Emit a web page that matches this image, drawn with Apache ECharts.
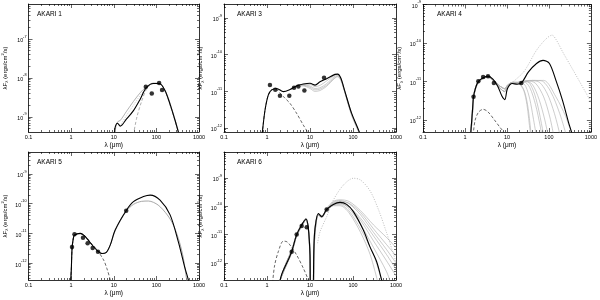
<!DOCTYPE html>
<html><head><meta charset="utf-8">
<script src="https://cdn.jsdelivr.net/npm/echarts@6/dist/echarts.min.js"></script>
<style>html,body{margin:0;padding:0;background:#fff}#c{width:600px;height:300px}</style>
</head><body><div id="c"></div>
<script>
// ---------------- data ----------------
const panelNames = ['AKARI 1', 'AKARI 3', 'AKARI 4', 'AKARI 5', 'AKARI 6'];
const xTickValues = [0.1, 1, 10, 100, 1000];
const xTickLabels = ['0.1', '1', '10', '100', '1000'];
const xRange = [0.1, 1000];
const yRanges = [[4.1e-10, 7.9e-7], [7.8e-13, 2.4e-9], [4.9e-13, 1e-9], [2.7e-13, 5.5e-9], [2.5e-13, 8.3e-9]];
const yDecades = [[1e-9, 1e-8, 1e-7], [1e-12, 1e-11, 1e-10, 1e-9], [1e-12, 1e-11, 1e-10, 1e-9], [1e-12, 1e-11, 1e-10, 1e-9], [1e-12, 1e-11, 1e-10, 1e-9]];

// AKARI 1  [wavelength um, lambda F_lambda]
const a1Obs = [[56.5, 5.9e-9], [78, 4.0e-9], [116, 7.4e-9], [136, 4.9e-9]];
const a1Fit = [[10.4, 3.5e-10], [10.8, 5.5e-10], [12.3, 6.9e-10], [14.2, 5.8e-10], [20, 8.9e-10], [29, 1.45e-9], [42, 2.9e-9], [57, 5.5e-9], [85, 7.2e-9], [118, 7.2e-9], [160, 4.7e-9], [210, 2.1e-9], [275, 8.1e-10], [328, 4.1e-10], [360, 3e-10]];
const a1Alt = [[10.6, 3.5e-10], [11.4, 6.2e-10], [12.5, 7.6e-10], [14.2, 8.1e-10], [20, 1.4e-9], [29, 2.5e-9], [42, 4.2e-9], [55, 5.6e-9], [85, 7.4e-9], [118, 7.3e-9], [160, 4.8e-9], [210, 2.2e-9], [275, 8.5e-10], [335, 4e-10], [360, 3e-10]];
const a1Dot = [[15, 6.5e-10], [20, 1.1e-9], [29, 2.0e-9], [42, 3.6e-9], [55, 5.0e-9], [85, 7.1e-9], [118, 7.1e-9], [160, 4.6e-9], [210, 2.0e-9], [275, 7.8e-10], [330, 3.8e-10]];
const a1Cold = [[29, 3.5e-10], [35, 1.0e-9], [45.6, 2.6e-9], [60, 5.4e-9], [85, 7.2e-9], [118, 7.1e-9], [160, 4.6e-9], [210, 2.0e-9], [275, 7.9e-10], [330, 3.9e-10]];

// AKARI 3
const a3Obs = [[1.17, 1.5e-11], [1.56, 1.1e-11], [2.0, 7.6e-12], [3.3, 7.6e-12], [4.25, 1.26e-11], [5.36, 1.35e-11], [7.4, 1.05e-11], [21.2, 2.35e-11]];
const a3Fit = [[0.75, 5e-13], [0.78, 7.8e-13], [0.9, 3.1e-12], [1.07, 7.9e-12], [1.28, 1.1e-11], [1.68, 1.2e-11], [2.4, 9.8e-12], [3.43, 1.12e-11], [4.9, 1.41e-11], [7.0, 1.58e-11], [10, 1.66e-11], [13.1, 1.48e-11], [17.1, 1.82e-11], [24.4, 2.2e-11], [38, 2.9e-11], [44, 2.95e-11], [52, 2.3e-11], [65, 9.8e-12], [93, 2.5e-12], [140, 7.8e-13], [160, 4e-13]];
const a3Star = [[0.75, 5e-13], [0.78, 7.8e-13], [0.9, 3.1e-12], [1.07, 7.9e-12], [1.28, 1.08e-11], [1.6, 1.15e-11], [2.0, 9e-12], [2.62, 6.5e-12], [3.43, 4.7e-12], [4.9, 2.5e-12], [7.0, 1.2e-12], [8.7, 7.8e-13], [9.5, 5e-13]];
const a3Gray1 = [[4.9, 1.41e-11], [7, 1.55e-11], [10, 1.55e-11], [13, 1.35e-11], [17, 1.45e-11], [24, 1.9e-11], [38, 2.8e-11], [44, 2.9e-11], [52, 2.25e-11], [65, 9.8e-12], [93, 2.5e-12], [140, 7.8e-13]];
const a3Gray2 = [[4.9, 1.4e-11], [7, 1.5e-11], [10, 1.4e-11], [13, 1.2e-11], [17, 1.25e-11], [24, 1.6e-11], [38, 2.6e-11], [44, 2.75e-11], [52, 2.2e-11], [65, 9.5e-12], [93, 2.4e-12], [140, 7.5e-13]];
const a3Gray3 = [[4.9, 1.4e-11], [7, 1.45e-11], [10, 1.3e-11], [13, 1.1e-11], [17, 1.15e-11], [24, 1.45e-11], [38, 2.4e-11], [44, 2.6e-11], [52, 2.1e-11], [65, 9.2e-12], [93, 2.3e-12], [140, 7.5e-13]];
const a3Gray4 = [[4.9, 1.38e-11], [7, 1.4e-11], [10, 1.2e-11], [13, 1.0e-11], [17, 1.05e-11], [24, 1.35e-11], [38, 2.3e-11], [44, 2.5e-11], [52, 2.0e-11], [65, 9e-12], [93, 2.2e-12], [140, 7.2e-13]];

// AKARI 4
const a4Obs = [[1.6, 4.0e-12], [2.08, 1.02e-11], [2.71, 1.32e-11], [3.54, 1.38e-11], [4.88, 9.2e-12], [22, 9.2e-12]];
const a4Fit = [[1.38, 4.9e-13], [1.5, 1.6e-12], [1.6, 4e-12], [1.8, 7e-12], [2.08, 1.0e-11], [2.71, 1.25e-11], [3.54, 1.38e-11], [4.62, 1.15e-11], [6.03, 7.6e-12], [7.58, 4.2e-12], [8.9, 3.4e-12], [10.3, 6.6e-12], [13.4, 8.9e-12], [17.5, 8.5e-12], [22.8, 9.6e-12], [32.6, 1.78e-11], [50.7, 2.95e-11], [72.4, 3.55e-11], [103, 2.95e-11], [147, 1.07e-11], [210, 3.3e-12], [299, 8.1e-13], [345, 4.9e-13], [380, 3e-13]];
const a4Star = [[1.5, 3e-13], [1.59, 4.9e-13], [1.75, 1.0e-12], [2.1, 1.6e-12], [2.71, 1.9e-12], [3.5, 1.65e-12], [5.06, 1.0e-12], [6.8, 6.5e-13], [8.3, 4.9e-13], [9, 3.5e-13]];
const a4Dot = [[11.2, 8.1e-12], [25, 1.78e-11], [50.7, 6.5e-11], [86, 1.29e-10], [119, 1.6e-10], [150, 1.2e-10], [220, 5.5e-11], [357, 2.2e-11], [950, 3.3e-12], [1000, 2.8e-12]];
const a4GrayHeadA = [[1.38, 4.9e-13], [1.5, 1.7e-12], [1.6, 4.2e-12], [1.8, 7.2e-12], [2.08, 1.0e-11], [2.71, 1.25e-11], [3.54, 1.35e-11], [4.62, 1.12e-11], [6.03, 8.5e-12], [7.58, 7e-12], [8.9, 6.5e-12], [10.3, 8e-12], [13.4, 9.5e-12], [17.5, 9.5e-12]];
const a4GrayHeadB = [[1.4, 4.9e-13], [1.52, 1.6e-12], [1.62, 4e-12], [1.82, 7e-12], [2.1, 9.6e-12], [2.71, 1.2e-11], [3.54, 1.3e-11], [4.62, 1.08e-11], [6.03, 8e-12], [7.58, 6e-12], [8.9, 5.5e-12], [10.3, 7.5e-12], [13.4, 9e-12], [17.5, 9e-12]];
const a4Tail1 = [[20, 8.5e-12], [25, 6e-12], [30, 2.5e-12], [36, 4.9e-13], [40, 3e-13]];
const a4Tail2 = [[22, 9.5e-12], [28, 7.5e-12], [35, 3.5e-12], [42, 1.2e-12], [50, 4e-13]];
const a4Tail3 = [[25, 1.0e-11], [35, 7e-12], [48, 2.5e-12], [62, 7e-13], [70, 3e-13]];
const a4Tail4 = [[28, 1.0e-11], [40, 8.5e-12], [58, 3.5e-12], [80, 1e-12], [95, 4e-13]];
const a4Tail5 = [[30, 1.05e-11], [48, 9e-12], [75, 4e-12], [105, 1.2e-12], [130, 4e-13]];
const a4Tail6 = [[32, 1.05e-11], [55, 1.0e-11], [90, 5e-12], [135, 1.5e-12], [185, 4e-13]];
const a4Tail7 = [[35, 1.07e-11], [65, 1.05e-11], [110, 5.5e-12], [180, 1.5e-12], [260, 4e-13]];
const a4Tail8 = [[40, 1.07e-11], [75, 1.07e-11], [147, 4e-12], [250, 1.25e-12], [360, 4e-13]];
const a4Tail9 = [[22, 8e-12], [27, 5e-12], [32, 2e-12], [38, 4e-13]];
const a4Tail10 = [[30, 1.0e-11], [42, 6e-12], [55, 2.2e-12], [70, 6e-13], [80, 3e-13]];

// AKARI 5
const a5Obs = [[1.05, 3.5e-12], [1.2, 9.3e-12], [1.9, 7.2e-12], [2.44, 4.7e-12], [3.2, 3.2e-12], [4.27, 2.4e-12], [19.6, 5.8e-11]];
const a5Fit = [[0.98, 2.7e-13], [1.01, 6e-13], [1.05, 3e-12], [1.12, 6.5e-12], [1.2, 8.8e-12], [1.64, 1e-11], [2.15, 7.8e-12], [2.82, 4.8e-12], [4.04, 2.7e-12], [5.29, 2.1e-12], [6.7, 2.3e-12], [8.3, 4.1e-12], [10.8, 1.3e-11], [19.6, 5.9e-11], [29, 1.17e-10], [50, 1.74e-10], [71.5, 1.95e-10], [122, 1.32e-10], [210, 4.2e-11], [328, 5.2e-12], [471, 6.6e-13], [563, 2.7e-13], [600, 1.5e-13]];
const a5Gray = [[0.98, 2.7e-13], [1.01, 6e-13], [1.05, 3e-12], [1.12, 6.5e-12], [1.2, 8.8e-12], [1.64, 1e-11], [2.15, 7.8e-12], [2.82, 4.8e-12], [4.04, 2.7e-12], [5.29, 2.1e-12], [6.7, 2.3e-12], [8.3, 4.1e-12], [10.8, 1.25e-11], [19.6, 5.5e-11], [29, 9.5e-11], [45, 1.2e-10], [65, 1.23e-10], [110, 9e-11], [180, 4.2e-11], [251, 1.9e-11], [350, 5e-12], [430, 1.45e-12], [515, 2.7e-13], [550, 1.5e-13]];
const a5Star = [[0.98, 2.7e-13], [1.01, 6e-13], [1.05, 3e-12], [1.12, 6.5e-12], [1.2, 8.6e-12], [1.64, 9.8e-12], [2.15, 8e-12], [2.82, 5e-12], [4.04, 2.8e-12], [5.8, 1.26e-12], [6.9, 6.6e-13], [8.3, 2.7e-13], [9, 1.5e-13]];

// AKARI 6
const a6Obs = [[3.75, 2.5e-12], [4.9, 1.02e-11], [6.4, 2.0e-11], [8.4, 1.82e-11], [24.4, 7.8e-11]];
const a6Fit = [[1.95, 2e-13], [2.2, 4e-13], [2.62, 7.4e-13], [3.2, 1.4e-12], [3.75, 2.5e-12], [4.9, 1e-11], [6.4, 2.2e-11], [8.07, 3.55e-11], [9.15, 1.66e-11], [10, 1.9e-12], [10.3, 1e-13], [11.6, 1e-13], [12.3, 3e-12], [13.1, 1.66e-11], [15.6, 5.6e-11], [18.7, 4.3e-11], [24.4, 7.8e-11], [34.9, 1.17e-10], [49.9, 1.38e-10], [71.3, 1.17e-10], [102, 6.5e-11], [174, 1.45e-11], [248, 3.7e-12], [355, 1.1e-12], [464, 2.5e-13], [520, 1.3e-13]];
const a6Star = [[1.35, 2e-13], [1.5, 8e-13], [1.83, 2.5e-12], [2.39, 5.9e-12], [2.9, 5.6e-12], [3.43, 4.3e-12], [4.9, 1.9e-12], [7, 6.5e-13], [9.15, 2.5e-13], [10, 1.5e-13]];
const a6Dot = [[15, 5e-12], [17.1, 1.26e-11], [24.4, 4.3e-11], [34.9, 1.66e-10], [59.6, 5.6e-10], [102, 9.8e-10], [150, 8.5e-10], [250, 3.5e-10], [400, 7e-11], [600, 1.2e-11], [838, 2.5e-12], [1000, 1.1e-12]];
const a6GrayHeadA = [[1.95, 2e-13], [2.62, 8e-13], [3.75, 2.8e-12], [4.9, 1.05e-11], [6.4, 2.3e-11], [8.07, 3.6e-11], [9.15, 1.8e-11], [10, 2.5e-12], [10.3, 1e-13], [11.6, 1e-13], [12.3, 4e-12], [13.1, 1.8e-11], [15.6, 5.4e-11], [18.7, 4.6e-11]];
const a6GrayHeadB = [[1.9, 2e-13], [2.62, 6.5e-13], [3.75, 2.3e-12], [4.9, 9e-12], [6.4, 2e-11], [8.07, 3.3e-11], [9.15, 1.5e-11], [10, 1.5e-12], [10.3, 1e-13], [11.8, 1e-13], [12.5, 3e-12], [13.3, 1.5e-11], [15.6, 5e-11], [18.7, 4.1e-11]];
const a6TailA = [[24.4, 8e-11], [35, 1.4e-10], [50, 1.6e-10], [80, 1.25e-10], [150, 5e-11], [300, 1.2e-11], [600, 3e-12], [1000, 1e-12]];
const a6TailB = [[24.4, 7.5e-11], [35, 1.3e-10], [50, 1.45e-10], [80, 1.0e-10], [150, 3.2e-11], [300, 6e-12], [600, 1.2e-12], [1000, 3.5e-13]];
const a6TailC = [[24.4, 7.2e-11], [35, 1.2e-10], [50, 1.3e-10], [80, 8.5e-11], [150, 2.3e-11], [300, 3.5e-12], [600, 5e-13], [750, 2e-13]];
const a6TailD = [[24.4, 7e-11], [35, 1.1e-10], [50, 1.15e-10], [80, 7e-11], [150, 1.6e-11], [300, 2e-12], [480, 2e-13]];
const a6TailE = [[24.4, 6.8e-11], [35, 1.05e-10], [50, 1.05e-10], [80, 6e-11], [150, 1.2e-11], [250, 2e-12], [380, 2e-13]];
const a6TailF = [[24.4, 8.5e-11], [35, 1.5e-10], [50, 1.7e-10], [80, 1.5e-10], [150, 7e-11], [300, 2.2e-11], [600, 8e-12], [1000, 3.5e-12]];
const a6TailG = [[24.4, 7.8e-11], [35, 1.25e-10], [50, 1.45e-10], [80, 1.3e-10], [150, 6e-11], [300, 1.6e-11], [600, 4.5e-12], [1000, 1.8e-12]];
const a6TailH = [[24.4, 7.6e-11], [35, 1.15e-10], [50, 1.25e-10], [80, 9.5e-11], [150, 3.8e-11], [300, 9e-12], [600, 2e-12], [1000, 6e-13]];

// ---------------- layout / build ----------------
const FONT = 'Liberation Sans, Arial, sans-serif';
const grids = [
  { left: 28, top: 4, width: 171, height: 128 },
  { left: 224, top: 4, width: 172, height: 128 },
  { left: 423, top: 4, width: 173, height: 128 },
  { left: 28, top: 152, width: 171, height: 128 },
  { left: 224, top: 152, width: 172, height: 128 }
];
const titlePos = [[37, 11], [237, 11], [437, 11], [37, 159], [237, 159]];

const L = Math.log10;
const toXY = d => d.map(p => [L(p[0]), L(p[1])]);
const mult = [2, 3, 4, 5, 6, 7, 8, 9];

const xMajor = xTickValues.map(L);
const xMinor = [];
xTickValues.slice(0, -1).forEach(d => mult.forEach(m => xMinor.push(L(d * m))));
const xLabelFor = v => {
  const i = xMajor.findIndex(t => Math.abs(t - v) < 1e-6);
  return i >= 0 ? xTickLabels[i] : '';
};

const xAxes = [], yAxes = [];
const lineCol = '#000';
grids.forEach((g, i) => {
  const yr = yRanges[i].map(L);
  const yMaj = yDecades[i].map(L);
  const yMin = [];
  for (let k = Math.floor(yr[0]); k < Math.ceil(yr[1]); k++) {
    mult.forEach(m => { const v = k + L(m); if (v > yr[0] && v < yr[1]) yMin.push(v); });
  }
  const xb = { type: 'value', gridIndex: i, min: L(xRange[0]), max: L(xRange[1]), splitLine: { show: false }, axisPointer: { show: false } };
  const yb = { type: 'value', gridIndex: i, min: yr[0], max: yr[1], splitLine: { show: false }, axisPointer: { show: false } };
  const lineOn = { show: true, onZero: false, lineStyle: { color: lineCol, width: 0.8 } };
  const lineOff = { show: false, onZero: false };
  const tk = (vals, len) => ({ show: true, inside: true, length: len, customValues: vals, lineStyle: { color: lineCol, width: 0.6 } });
  xAxes.push(
    Object.assign({}, xb, {
      position: 'bottom', axisLine: lineOn, axisTick: tk(xMajor, 4),
      axisLabel: { customValues: xMajor, formatter: xLabelFor, fontSize: 5.5, margin: 2.5, color: '#000', fontFamily: FONT },
      name: 'λ (μm)', nameLocation: 'middle', nameGap: 10,
      nameTextStyle: { fontSize: 6.5, color: '#000', fontFamily: FONT }
    }),
    Object.assign({}, xb, { position: 'bottom', axisLine: lineOff, axisTick: tk(xMinor, 2), axisLabel: { show: false } }),
    Object.assign({}, xb, { position: 'top', axisLine: lineOn, axisTick: tk(xMajor, 4), axisLabel: { show: false } }),
    Object.assign({}, xb, { position: 'top', axisLine: lineOff, axisTick: tk(xMinor, 2), axisLabel: { show: false } })
  );
  yAxes.push(
    Object.assign({}, yb, {
      position: 'left', axisLine: lineOn, axisTick: tk(yMaj, 4),
      axisLabel: {
        customValues: yMaj, margin: 2, color: '#000',
        formatter: v => '{b|10}{s|' + Math.round(v) + '}',
        rich: {
          b: { fontSize: 5.2, lineHeight: 9, verticalAlign: 'bottom', fontFamily: FONT, color: '#000' },
          s: { fontSize: 3.8, lineHeight: 5, verticalAlign: 'top', fontFamily: FONT, color: '#000' }
        }
      },
      name: '{n|λF}{d|λ}{n| (ergs/cm}{u|2}{n|/s)}', nameLocation: 'middle', nameGap: 19.5, nameRotate: 90,
      nameTextStyle: {
        rich: {
          n: { fontSize: 6, lineHeight: 8, verticalAlign: 'middle', fontFamily: FONT, color: '#000' },
          d: { fontSize: 4.2, lineHeight: 4, verticalAlign: 'bottom', fontFamily: FONT, color: '#000' },
          u: { fontSize: 4.2, lineHeight: 4, verticalAlign: 'top', fontFamily: FONT, color: '#000' }
        }
      }
    }),
    Object.assign({}, yb, { position: 'left', axisLine: lineOff, axisTick: tk(yMin, 2), axisLabel: { show: false } }),
    Object.assign({}, yb, { position: 'right', axisLine: lineOn, axisTick: tk(yMaj, 4), axisLabel: { show: false } }),
    Object.assign({}, yb, { position: 'right', axisLine: lineOff, axisTick: tk(yMin, 2), axisLabel: { show: false } })
  );
});

const series = [];
function line(i, data, color, width, type, z) {
  series.push({
    type: 'line', xAxisIndex: i * 4, yAxisIndex: i * 4, data: toXY(data),
    showSymbol: false, symbol: 'none', smooth: 0.3, silent: true, animation: false, z: z,
    lineStyle: { color: color, width: width, type: type }
  });
}
function pts(i, data) {
  series.push({
    type: 'scatter', xAxisIndex: i * 4, yAxisIndex: i * 4, data: toXY(data),
    symbol: 'circle', symbolSize: 4.5, itemStyle: { color: '#000' }, silent: true, animation: false, z: 6
  });
}
const GR = '#a8a8a8';
// panel 0 : AKARI 1
line(0, a1Alt, '#909090', 0.7, 'solid', 1);
line(0, a1Dot, '#b0b0b0', 0.7, [1, 1.5], 1);
line(0, a1Cold, '#9a9a9a', 0.8, [3, 2], 1);
line(0, a1Fit, '#000', 1.1, 'solid', 3);
pts(0, a1Obs);
// panel 1 : AKARI 3
[a3Gray1, a3Gray2, a3Gray3, a3Gray4].forEach(d => line(1, d, GR, 0.6, 'solid', 1));
line(1, a3Fit, '#000', 1.1, 'solid', 3);
line(1, a3Star, '#000', 0.6, [3, 2], 3);
pts(1, a3Obs);
// panel 2 : AKARI 4
[a4Tail1, a4Tail3, a4Tail5, a4Tail7, a4Tail9].forEach(t => line(2, a4GrayHeadA.concat(t), '#b8b8b8', 0.7, 'solid', 1));
[a4Tail2, a4Tail4, a4Tail6, a4Tail8, a4Tail10].forEach(t => line(2, a4GrayHeadB.concat(t), '#b8b8b8', 0.7, 'solid', 1));
line(2, a4Dot, '#a0a0a0', 0.7, [1, 1.5], 2);
line(2, a4Fit, '#000', 1.1, 'solid', 3);
line(2, a4Star, '#000', 0.6, [3, 2], 3);
pts(2, a4Obs);
// panel 3 : AKARI 5
line(3, a5Gray, '#909090', 0.8, 'solid', 1);
line(3, a5Fit, '#000', 1.1, 'solid', 3);
line(3, a5Star, '#000', 0.6, [3, 2], 3);
pts(3, a5Obs);
// panel 4 : AKARI 6
[a6TailA, a6TailC, a6TailE, a6TailG].forEach(t => line(4, a6GrayHeadA.concat(t), GR, 0.6, 'solid', 1));
[a6TailB, a6TailD, a6TailF, a6TailH].forEach(t => line(4, a6GrayHeadB.concat(t), GR, 0.6, 'solid', 1));
line(4, a6Dot, '#a0a0a0', 0.7, [1, 1.5], 2);
line(4, a6Fit, '#000', 1.1, 'solid', 3);
line(4, a6Star, '#000', 0.6, [3, 2], 3);
pts(4, a6Obs);

const chart = echarts.init(document.getElementById('c'), null, { renderer: 'canvas' });
chart.setOption({
  backgroundColor: '#fff',
  animation: false,
  title: panelNames.map((n, i) => ({
    text: n, left: titlePos[i][0], top: titlePos[i][1], padding: 0,
    textStyle: { fontSize: 6.5, fontWeight: 'normal', color: '#000', fontFamily: FONT }
  })),
  grid: grids.map(g => Object.assign({ containLabel: false }, g)),
  xAxis: xAxes,
  yAxis: yAxes,
  series: series
});
</script>
</body></html>
